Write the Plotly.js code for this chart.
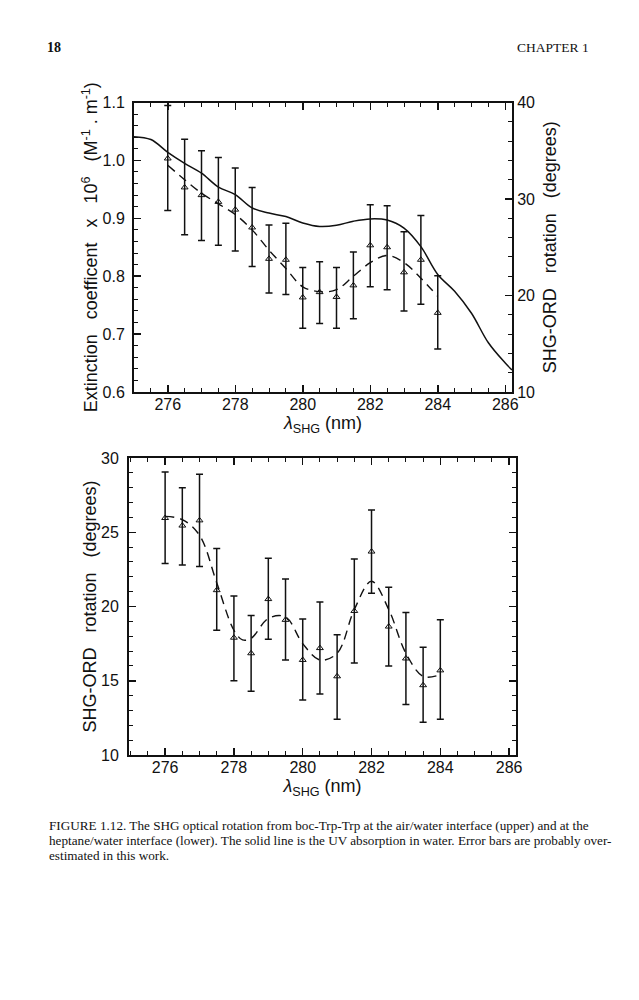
<!DOCTYPE html>
<html>
<head>
<meta charset="utf-8">
<script src="https://cdn.plot.ly/plotly-3.0.1.min.js"></script>
<style>
  body { margin: 0; background: #fff; }
  #fig { width: 639px; height: 1000px; }
</style>
</head>
<body>
<div id="fig"></div>
<script>
// upper panel: air/water interface
const wlPts = [276, 276.5, 277, 277.5, 278, 278.5, 279, 279.5, 280, 280.5, 281, 281.5, 282, 282.5, 283, 283.5, 284]
const airOrd = [34.2, 31.2, 30.4, 29.7, 28.9, 27.05, 23.8, 23.7, 19.8, 20.35, 19.85, 21.05, 25.2, 25.0, 22.4, 23.7, 18.2]
const airErrUp = [5.5, 5.0, 4.6, 4.6, 4.3, 4.15, 3.5, 3.8, 3.1, 3.15, 3.05, 3.45, 4.2, 4.3, 4.2, 4.6, 3.85]
const airErrDn = [5.4, 4.9, 4.7, 4.5, 4.3, 4.05, 3.55, 3.6, 3.2, 3.25, 3.25, 3.45, 4.3, 4.4, 4.0, 4.6, 3.75]

const airFitX = [276, 276.5, 277, 277.5, 278, 278.5, 279, 279.5, 280, 280.5, 281, 281.5, 282, 282.5, 283, 283.5, 284]
const airFitY = [33.5, 32.0, 30.6, 29.5, 28.4, 26.8, 24.7, 22.8, 20.9, 20.4, 20.6, 22.0, 23.4, 24.15, 23.4, 21.8, 19.9]

const uvX = [275, 275.5, 276, 276.5, 277, 277.5, 278, 278.5, 279, 279.5, 280, 280.5, 281, 281.5, 282, 282.5, 283, 283.5, 284, 284.5, 285, 285.5, 286, 286.2]
const uvExt = [1.041, 1.036, 1.014, 0.995, 0.978, 0.954, 0.941, 0.918, 0.909, 0.903, 0.892, 0.886, 0.888, 0.895, 0.899, 0.897, 0.883, 0.851, 0.803, 0.774, 0.736, 0.685, 0.650, 0.638]

// lower panel: heptane/water interface
const hepOrd = [25.96, 25.45, 25.8, 21.1, 17.9, 16.85, 20.5, 19.1, 16.4, 17.2, 15.3, 19.7, 23.7, 18.65, 16.5, 14.7, 15.7]
const hepErrUp = [3.1, 2.55, 3.1, 2.8, 2.8, 2.55, 2.75, 2.75, 2.75, 3.1, 2.8, 3.5, 2.8, 2.65, 3.1, 2.55, 3.4]
const hepErrDn = [3.06, 2.65, 3.1, 2.7, 2.9, 2.55, 2.7, 2.7, 2.7, 3.1, 2.9, 3.5, 2.8, 2.65, 3.1, 2.5, 3.3]

const hepFitX = [276, 276.5, 277, 277.5, 278, 278.25, 278.5, 279, 279.5, 280, 280.5, 281, 281.5, 282, 282.5, 283, 283.5, 284]
const hepFitY = [26.07, 25.85, 24.8, 21.6, 18.4, 17.75, 17.85, 19.2, 19.3, 17.5, 16.4, 16.85, 19.8, 21.7, 19.8, 16.85, 15.3, 15.4]

const xTicks = [276, 278, 280, 282, 284, 286]

const px = v => v / 639
const py = v => 1 - v / 1000
const sans = 'Liberation Sans, Arial, sans-serif'
const serif = 'Liberation Serif, Times New Roman, serif'
const sp = '\u00a0\u00a0\u00a0'

const errStyle = (up, dn) => ({
    type: 'data', symmetric: false, array: up, arrayminus: dn,
    color: '#111', thickness: 1.5, width: 3.5
})
const tri = { symbol: 'triangle-up-open', size: 6, color: '#111', line: { width: 1, color: '#111' } }

const data = [
    { x: uvX, y: uvExt, xaxis: 'x', yaxis: 'y', mode: 'lines', line: { color: '#111', width: 1.5, shape: 'spline' } },
    { x: airFitX, y: airFitY, xaxis: 'x', yaxis: 'y2', mode: 'lines', line: { color: '#111', width: 1.4, dash: '9px,6px', shape: 'spline' } },
    { x: wlPts, y: airOrd, xaxis: 'x', yaxis: 'y2', mode: 'markers', marker: tri, error_y: errStyle(airErrUp, airErrDn) },
    { x: hepFitX, y: hepFitY, xaxis: 'x2', yaxis: 'y3', mode: 'lines', line: { color: '#111', width: 1.4, dash: '9px,6px', shape: 'spline' } },
    { x: wlPts, y: hepOrd, xaxis: 'x2', yaxis: 'y3', mode: 'markers', marker: tri, error_y: errStyle(hepErrUp, hepErrDn) }
]

const tickFont = { family: sans, size: 16, color: '#111' }
const titleFont = { family: sans, size: 18, color: '#111' }
const baseAxis = {
    showgrid: false, zeroline: false, showline: true, linecolor: '#111', linewidth: 2,
    ticks: 'inside', ticklen: 7, tickwidth: 1.5, tickcolor: '#111', tickfont: tickFont
}
const minor = (d) => ({ dtick: d, ticks: 'inside', ticklen: 4, tickwidth: 1, tickcolor: '#111', showgrid: false })
const xTitle = { text: '<i>λ</i><sub>SHG</sub> (nm)', font: titleFont, standoff: 2 }

const layout = {
    width: 639, height: 1000,
    margin: { l: 0, r: 0, t: 0, b: 0 },
    paper_bgcolor: '#fff', plot_bgcolor: '#fff',
    showlegend: false,
    xaxis: Object.assign({}, baseAxis, {
        domain: [px(134), px(512)], anchor: 'y', range: [275, 286.2],
        tickvals: xTicks, mirror: 'ticks', minor: minor(0.5), title: xTitle, ticklabelstandoff: -3
    }),
    yaxis: Object.assign({}, baseAxis, {
        domain: [py(392), py(102.5)], anchor: 'x', range: [0.6, 1.1],
        dtick: 0.1, tickformat: '.1f', minor: minor(0.02), ticklabelstandoff: 4,
        title: { text: 'Extinction' + sp + 'coefficent' + sp + 'x' + sp + '10<sup>6</sup>' + sp + '(M<sup>-1</sup> . m<sup>-1</sup>)', font: titleFont, standoff: 0 }
    }),
    yaxis2: Object.assign({}, baseAxis, {
        overlaying: 'y', side: 'right', anchor: 'x', range: [10, 40],
        dtick: 10, minor: minor(2),
        title: { text: 'SHG-ORD' + sp + 'rotation' + sp + '(degrees)', font: titleFont, standoff: 9 }
    }),
    xaxis2: Object.assign({}, baseAxis, {
        domain: [px(129), px(516)], anchor: 'y3', range: [274.95, 286.2],
        tickvals: xTicks, mirror: 'ticks', minor: minor(0.5), title: xTitle, ticklabelstandoff: -3
    }),
    yaxis3: Object.assign({}, baseAxis, {
        domain: [py(755), py(458)], anchor: 'x2', range: [10, 30],
        dtick: 5, mirror: 'ticks', minor: minor(1), ticklabelstandoff: 5,
        title: { text: 'SHG-ORD' + sp + 'rotation' + sp + '(degrees)', font: titleFont, standoff: 0 }
    }),
    annotations: [
        { text: '<b>18</b>', x: px(45), y: py(47), xref: 'paper', yref: 'paper', xanchor: 'left', yanchor: 'middle', showarrow: false, font: { family: serif, size: 14, color: '#111' } },
        { text: 'CHAPTER 1', x: px(591), y: py(47), xref: 'paper', yref: 'paper', xanchor: 'right', yanchor: 'middle', showarrow: false, font: { family: serif, size: 13.5, color: '#111' } },
        { text: 'FIGURE 1.12. The SHG optical rotation from boc-Trp-Trp at the air/water interface (upper) and at the', x: px(47), y: py(825), xref: 'paper', yref: 'paper', xanchor: 'left', yanchor: 'middle', showarrow: false, font: { family: serif, size: 13.2, color: '#111' } },
        { text: 'heptane/water interface (lower). The solid line is the UV absorption in water. Error bars are probably over-', x: px(47), y: py(840), xref: 'paper', yref: 'paper', xanchor: 'left', yanchor: 'middle', showarrow: false, font: { family: serif, size: 13.2, color: '#111' } },
        { text: 'estimated in this work.', x: px(47), y: py(855), xref: 'paper', yref: 'paper', xanchor: 'left', yanchor: 'middle', showarrow: false, font: { family: serif, size: 13.2, color: '#111' } }
    ]
}

Plotly.newPlot('fig', data, layout, { staticPlot: true, displayModeBar: false })
</script>
</body>
</html>
